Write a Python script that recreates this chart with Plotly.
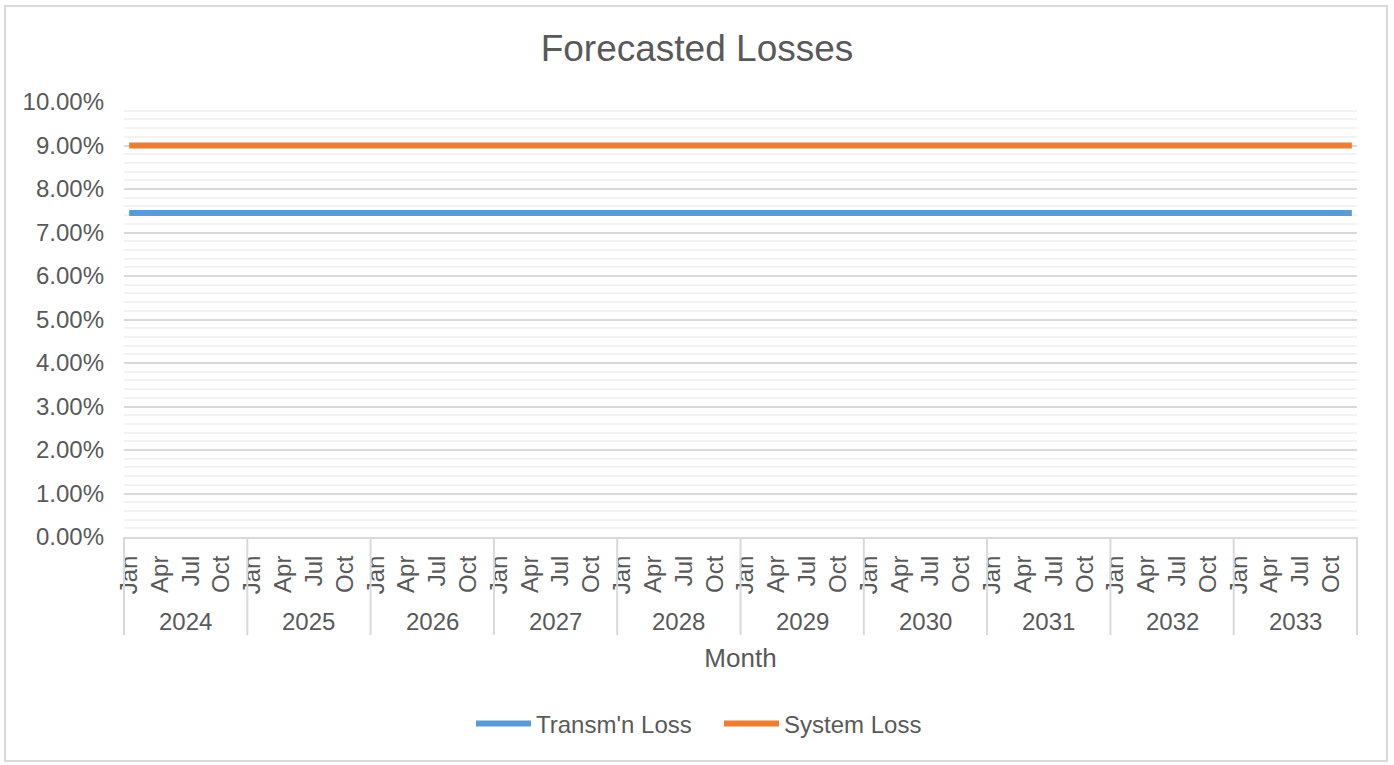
import plotly.graph_objects as go

# ── Data ───────────────────────────────────────────────────────────────────────

YEARS = [2024, 2025, 2026, 2027, 2028, 2029, 2030, 2031, 2032, 2033]
MONTHS = ["Jan", "Feb", "Mar", "Apr", "May", "Jun",
          "Jul", "Aug", "Sep", "Oct", "Nov", "Dec"]
SHOWN_MONTHS = ["Jan", "Apr", "Jul", "Oct"]

# monthly values, one row per year (Jan..Dec)
TRANSM_LOSS = [
    0.0745, 0.0745, 0.0745, 0.0745, 0.0745, 0.0745, 0.0745, 0.0745, 0.0745, 0.0745, 0.0745, 0.0745,
    0.0745, 0.0745, 0.0745, 0.0745, 0.0745, 0.0745, 0.0745, 0.0745, 0.0745, 0.0745, 0.0745, 0.0745,
    0.0745, 0.0745, 0.0745, 0.0745, 0.0745, 0.0745, 0.0745, 0.0745, 0.0745, 0.0745, 0.0745, 0.0745,
    0.0745, 0.0745, 0.0745, 0.0745, 0.0745, 0.0745, 0.0745, 0.0745, 0.0745, 0.0745, 0.0745, 0.0745,
    0.0745, 0.0745, 0.0745, 0.0745, 0.0745, 0.0745, 0.0745, 0.0745, 0.0745, 0.0745, 0.0745, 0.0745,
    0.0745, 0.0745, 0.0745, 0.0745, 0.0745, 0.0745, 0.0745, 0.0745, 0.0745, 0.0745, 0.0745, 0.0745,
    0.0745, 0.0745, 0.0745, 0.0745, 0.0745, 0.0745, 0.0745, 0.0745, 0.0745, 0.0745, 0.0745, 0.0745,
    0.0745, 0.0745, 0.0745, 0.0745, 0.0745, 0.0745, 0.0745, 0.0745, 0.0745, 0.0745, 0.0745, 0.0745,
    0.0745, 0.0745, 0.0745, 0.0745, 0.0745, 0.0745, 0.0745, 0.0745, 0.0745, 0.0745, 0.0745, 0.0745,
    0.0745, 0.0745, 0.0745, 0.0745, 0.0745, 0.0745, 0.0745, 0.0745, 0.0745, 0.0745, 0.0745, 0.0745,
]
SYSTEM_LOSS = [
    0.0900, 0.0900, 0.0900, 0.0900, 0.0900, 0.0900, 0.0900, 0.0900, 0.0900, 0.0900, 0.0900, 0.0900,
    0.0900, 0.0900, 0.0900, 0.0900, 0.0900, 0.0900, 0.0900, 0.0900, 0.0900, 0.0900, 0.0900, 0.0900,
    0.0900, 0.0900, 0.0900, 0.0900, 0.0900, 0.0900, 0.0900, 0.0900, 0.0900, 0.0900, 0.0900, 0.0900,
    0.0900, 0.0900, 0.0900, 0.0900, 0.0900, 0.0900, 0.0900, 0.0900, 0.0900, 0.0900, 0.0900, 0.0900,
    0.0900, 0.0900, 0.0900, 0.0900, 0.0900, 0.0900, 0.0900, 0.0900, 0.0900, 0.0900, 0.0900, 0.0900,
    0.0900, 0.0900, 0.0900, 0.0900, 0.0900, 0.0900, 0.0900, 0.0900, 0.0900, 0.0900, 0.0900, 0.0900,
    0.0900, 0.0900, 0.0900, 0.0900, 0.0900, 0.0900, 0.0900, 0.0900, 0.0900, 0.0900, 0.0900, 0.0900,
    0.0900, 0.0900, 0.0900, 0.0900, 0.0900, 0.0900, 0.0900, 0.0900, 0.0900, 0.0900, 0.0900, 0.0900,
    0.0900, 0.0900, 0.0900, 0.0900, 0.0900, 0.0900, 0.0900, 0.0900, 0.0900, 0.0900, 0.0900, 0.0900,
    0.0900, 0.0900, 0.0900, 0.0900, 0.0900, 0.0900, 0.0900, 0.0900, 0.0900, 0.0900, 0.0900, 0.0900,
]

# ── Theme ──────────────────────────────────────────────────────────────────────

FONT = "Liberation Sans, Arial, sans-serif"
TEXT = "#595959"
GRID = "#D9D9D9"
MINOR = "#F2F2F2"
BLUE = "#5B9BD5"
ORANGE = "#ED7D31"

W, H = 1394, 765
L, R, T, B = 124, 37, 102, 228          # plot area margins (px)
PW, PH = W - L - R, H - T - B


def px_x(px):
    return (px - L) / PW


def px_y(py):
    return (H - B - py) / PH


# category labels, e.g. "Jan 2024"
cats = [f"{m} {y}" for y in YEARS for m in MONTHS]
n = len(cats)

fig = go.Figure()
fig.add_trace(go.Scatter(
    x=cats, y=TRANSM_LOSS, mode="lines", name="Transm'n Loss",
    line=dict(color=BLUE, width=6),
))
fig.add_trace(go.Scatter(
    x=cats, y=SYSTEM_LOSS, mode="lines", name="System Loss",
    line=dict(color=ORANGE, width=6),
))

# year group labels + separators
shapes = []
annotations = []
for k, yr in enumerate(YEARS):
    annotations.append(dict(
        x=(12 * k + 6) / n, xref="paper", y=px_y(621), yref="paper",
        text=str(yr), showarrow=False, xanchor="center", yanchor="middle",
        font=dict(size=24, color=TEXT, family=FONT),
    ))
for k in range(len(YEARS) + 1):
    shapes.append(dict(
        type="line", xref="paper", yref="paper",
        x0=12 * k / n, x1=12 * k / n, y0=0, y1=px_y(635),
        line=dict(color=GRID, width=2),
    ))
# chart border
shapes.append(dict(
    type="rect", xref="paper", yref="paper",
    x0=px_x(5), x1=px_x(1387), y0=px_y(6), y1=px_y(761),
    line=dict(color=GRID, width=2), layer="below",
))

fig.update_layout(
    width=W, height=H,
    margin=dict(l=L, r=R, t=T, b=B),
    paper_bgcolor="white", plot_bgcolor="white",
    font=dict(family=FONT, color=TEXT, size=24),
    title=dict(text="Forecasted Losses", x=0.5, xanchor="center",
               y=1 - 48 / H, yanchor="middle",
               font=dict(size=37, color=TEXT, family=FONT)),
    legend=dict(orientation="h", x=px_x(471), xanchor="left",
                y=px_y(724), yanchor="middle",
                font=dict(size=24, color=TEXT), itemwidth=55,
                entrywidth=178),
    shapes=shapes, annotations=annotations,
    showlegend=True,
)
fig.update_xaxes(
    type="category", range=[-0.5, n - 0.5],
    tickmode="array",
    tickvals=[c for c in cats if c.split()[0] in SHOWN_MONTHS],
    ticktext=[c.split()[0] for c in cats if c.split()[0] in SHOWN_MONTHS],
    tickangle=-90, ticklabelstandoff=7,
    tickfont=dict(size=24, color=TEXT),
    showgrid=False, showline=True, linecolor=GRID, linewidth=2,
    ticks="", zeroline=False,
    title=dict(text="Month", font=dict(size=26, color=TEXT), standoff=55),
)
fig.update_yaxes(
    range=[0, 0.1], dtick=0.01, tickformat=".2%",
    tickfont=dict(size=24, color=TEXT), ticklabelstandoff=19,
    showgrid=True, gridcolor=GRID, gridwidth=2,
    minor=dict(dtick=0.002, showgrid=True, gridcolor=MINOR, gridwidth=2),
    showline=False, zeroline=False, ticks="",
)

fig.write_html("out.html", config={"displayModeBar": False},
               post_script="document.body.style.margin='0';")
